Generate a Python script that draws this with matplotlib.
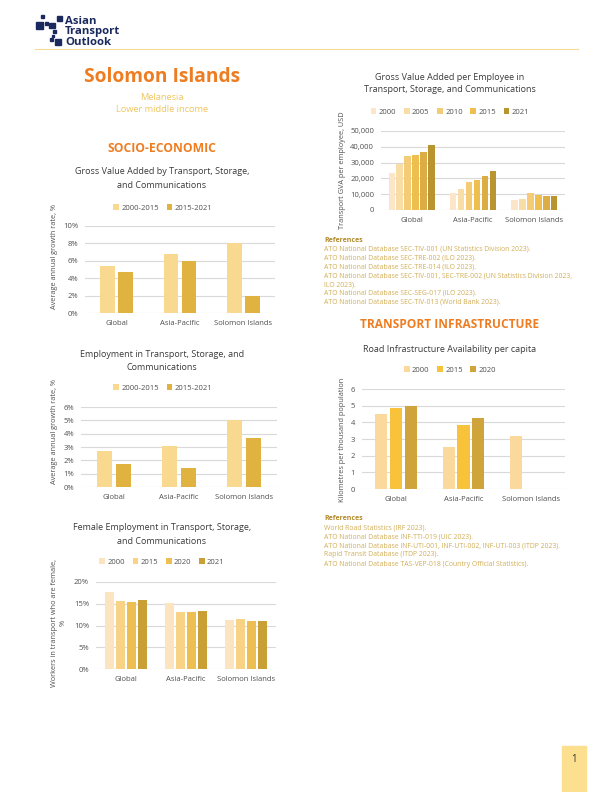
import numpy as np
import matplotlib
matplotlib.use("Agg")
import matplotlib.pyplot as plt
from matplotlib.patches import Rectangle
from matplotlib.ticker import FuncFormatter

plt.rcParams['font.family'] = ['Open Sans', 'DejaVu Sans']

# ---- data ----
regions = ['Global', 'Asia-Pacific', 'Solomon Islands']

gva_periods = ['2000-2015', '2015-2021']
gva_growth = [[0.054, 0.068, 0.080],
              [0.047, 0.060, 0.019]]

emp_periods = ['2000-2015', '2015-2021']
emp_growth = [[2.7, 3.1, 5.0],
              [1.7, 1.4, 3.7]]

fem_years = ['2000', '2015', '2020', '2021']
fem_share = [[17.8, 15.2, 11.3],
             [15.6, 13.0, 11.5],
             [15.5, 13.0, 11.0],
             [15.9, 13.4, 11.0]]

gvae_years = ['2000', '2005', '2010', '2015', '_2020', '2021']
gvae_usd = [[23500, 11000, 6200],
            [28800, 13000, 6800],
            [34200, 18000, 11000],
            [34700, 19000, 9800],
            [36800, 21500, 8700],
            [41200, 24800, 8800]]

road_years = ['2000', '2015', '2020']
road_km = [[4.5, 2.5, 3.2],
           [4.85, 3.85, np.nan],
           [5.0, 4.25, np.nan]]

refs_socio = [
    "ATO National Database SEC-TIV-001 (UN Statistics Division 2023).",
    "ATO National Database SEC-TRE-002 (ILO 2023).",
    "ATO National Database SEC-TRE-014 (ILO 2023).",
    "ATO National Database SEC-TIV-001, SEC-TRE-002 (UN Statistics Division 2023,",
    "ILO 2023).",
    "ATO National Database SEC-SEG-017 (ILO 2023).",
    "ATO National Database SEC-TIV-013 (World Bank 2023).",
]
refs_infra = [
    "World Road Statistics (IRF 2023).",
    "ATO National Database INF-TTI-019 (UIC 2023).",
    "ATO National Database INF-UTI-001, INF-UTI-002, INF-UTI-003 (ITDP 2023).",
    "Rapid Transit Database (ITDP 2023).",
    "ATO National Database TAS-VEP-018 (Country Official Statistics).",
]

# ---- styles ----
W, H = 612, 792
ORANGE = '#EE7D22'
GOLD_TXT = '#F0C65E'
REF_HEAD = '#B38B2B'
REF_TXT = '#D2AE57'
NAVY = '#1B2A5E'
GRID = '#D9D9D9'
TICK = '#505050'
TITLE = '#3A3A3A'

c_two = ['#F9D88F', '#E0B23F']
c_fem = ['#FDE4C0', '#F8D386', '#EDBE52', '#C9A036']
c_gvae = ['#FDE5CA', '#F8DEA6', '#F4CC78', '#EEBE4E', '#DBAD44', '#BA952F']
c_road = ['#FBD99C', '#F8C23A', '#CFA43A']

fig = plt.figure(figsize=(W / 100, H / 100), dpi=100)


def fx(x):
    return x / W


def fy(y):
    return 1 - y / H


def bar_chart(box, series, labels, colors, width, step, ylim, yticks, fmt,
              title, title_y, legend_xy, ylabel, ylabel_x, ylabel_y):
    left, top, right, bottom = box
    ax = fig.add_axes([fx(left), fy(bottom), fx(right - left), (bottom - top) / H])
    x = np.arange(len(regions))
    n = len(series)
    for i, vals in enumerate(series):
        ax.bar(x + (i - (n - 1) / 2) * step, vals, width, color=colors[i],
               label=labels[i], zorder=3)
    ax.set_xlim(-0.5, len(regions) - 0.5)
    ax.set_ylim(*ylim)
    ax.set_yticks(yticks)
    ax.yaxis.set_major_formatter(FuncFormatter(fmt))
    ax.set_xticks(x)
    ax.set_xticklabels(regions)
    ax.tick_params(length=0, labelsize=5.5, labelcolor=TICK)
    ax.tick_params(axis='x', pad=5)
    ax.tick_params(axis='y', pad=5)
    ax.grid(axis='y', color=GRID, lw=0.8, zorder=0)
    for s in ax.spines.values():
        s.set_visible(False)
    lx, ly = legend_xy
    ax.legend(loc='center', ncol=n,
              bbox_to_anchor=((lx - left) / (right - left), (bottom - ly) / (bottom - top)),
              frameon=False, fontsize=5.5, handlelength=0.75, handleheight=0.75,
              handletextpad=0.3, columnspacing=1.0, labelcolor=TICK)
    tx = title_y[0]
    for k, line in enumerate(title):
        fig.text(fx(tx), fy(title_y[1 + k]), line, ha='center', va='center',
                 fontsize=6.5, color=TITLE)
    fig.text(fx(ylabel_x), fy(ylabel_y), ylabel, rotation=90, ha='center',
             va='center', fontsize=5.3, color=TICK, multialignment='center')
    return ax


# ---- header ----
logo_sq = [(41, 15, 3, 3), (36, 22, 7, 7), (45, 22, 3, 3), (49, 23, 6, 5),
           (57, 16, 5, 5), (53, 30, 3, 3), (52, 35, 2, 2), (55, 39, 6, 6),
           (50, 38, 3, 3)]
for (x0, y0, w0, h0) in logo_sq:
    fig.patches.append(Rectangle((fx(x0), fy(y0 + h0)), w0 / W, h0 / H,
                                 transform=fig.transFigure, color=NAVY))
for k, word in enumerate(['Asian', 'Transport', 'Outlook']):
    fig.text(fx(65), fy(21 + 10.7 * k), word, ha='left', va='center',
             fontsize=8.2, fontweight='bold', color=NAVY)
fig.add_artist(plt.Line2D([fx(35), fx(578)], [fy(49), fy(49)],
                          color='#F5DC92', lw=0.8))

fig.text(fx(162), fy(77), 'Solomon Islands', ha='center', va='center',
         fontsize=13.8, fontweight='bold', color=ORANGE)
fig.text(fx(162), fy(97), 'Melanesia', ha='center', va='center',
         fontsize=6.7, color=GOLD_TXT)
fig.text(fx(162), fy(110), 'Lower middle income', ha='center', va='center',
         fontsize=6.7, color=GOLD_TXT)
fig.text(fx(162), fy(149), 'SOCIO-ECONOMIC', ha='center', va='center',
         fontsize=8.7, fontweight='bold', color=ORANGE)
fig.text(fx(450), fy(325), 'TRANSPORT INFRASTRUCTURE', ha='center', va='center',
         fontsize=8.6, fontweight='bold', color=ORANGE)

pct0 = lambda v, p: f'{v * 100:.0f}%'
pct = lambda v, p: f'{v:.0f}%'
comma = lambda v, p: f'{v:,.0f}'
plain = lambda v, p: f'{v:.0f}'

# ---- left column ----
bar_chart((85, 226, 275, 313), gva_growth, gva_periods, c_two, 0.235, 0.285,
          (0, 0.10), np.arange(0, 0.101, 0.02), pct0,
          ['Gross Value Added by Transport, Storage,', 'and Communications'],
          (162, 172, 186), (163, 208), 'Average annual growth rate, %', 55, 256)

bar_chart((81, 407, 277, 487), emp_growth, emp_periods, c_two, 0.23, 0.295,
          (0, 6), np.arange(0, 7, 1), pct,
          ['Employment in Transport, Storage, and', 'Communications'],
          (162, 354, 367), (163, 388), 'Average annual growth rate, %', 54, 432)

bar_chart((96, 582, 276, 669), fem_share, fem_years, c_fem, 0.14, 0.185,
          (0, 20), np.arange(0, 21, 5), pct,
          ['Female Employment in Transport, Storage,', 'and Communications'],
          (162, 527, 541), (162, 562), 'Workers in transport who are female,\n%', 59, 623)

# ---- right column ----
bar_chart((381, 131, 565, 210), gvae_usd, gvae_years, c_gvae, 0.105, 0.13,
          (0, 50000), np.arange(0, 50001, 10000), comma,
          ['Gross Value Added per Employee in', 'Transport, Storage, and Communications'],
          (450, 77, 90), (450, 112), 'Transport GVA per employee, USD', 343, 170)

bar_chart((362, 389, 565, 489), road_km, road_years, c_road, 0.18, 0.22,
          (0, 6), np.arange(0, 7, 1), plain,
          ['Road Infrastructure Availability per capita'],
          (450, 349), (450, 370), 'Kilometres per thousand population', 342, 440)

# ---- references ----
fig.text(fx(324), fy(241), 'References', ha='left', va='center',
         fontsize=5.0, fontweight='bold', color=REF_HEAD)
for k, line in enumerate(refs_socio):
    fig.text(fx(324), fy(249.5 + 8.8 * k), line, ha='left', va='center',
             fontsize=4.95, color=REF_TXT)

fig.text(fx(324), fy(518), 'References', ha='left', va='center',
         fontsize=5.0, fontweight='bold', color=REF_HEAD)
for k, line in enumerate(refs_infra):
    fig.text(fx(324), fy(528 + 9 * k), line, ha='left', va='center',
             fontsize=4.95, color=REF_TXT)

# ---- page number ----
fig.patches.append(Rectangle((fx(562), 0), 24 / W, 46 / H,
                             transform=fig.transFigure, color='#FDE08F'))
fig.text(fx(574), fy(759), '1', ha='center', va='center', fontsize=7, color='#333333')

fig.savefig('out.png', dpi=100)
